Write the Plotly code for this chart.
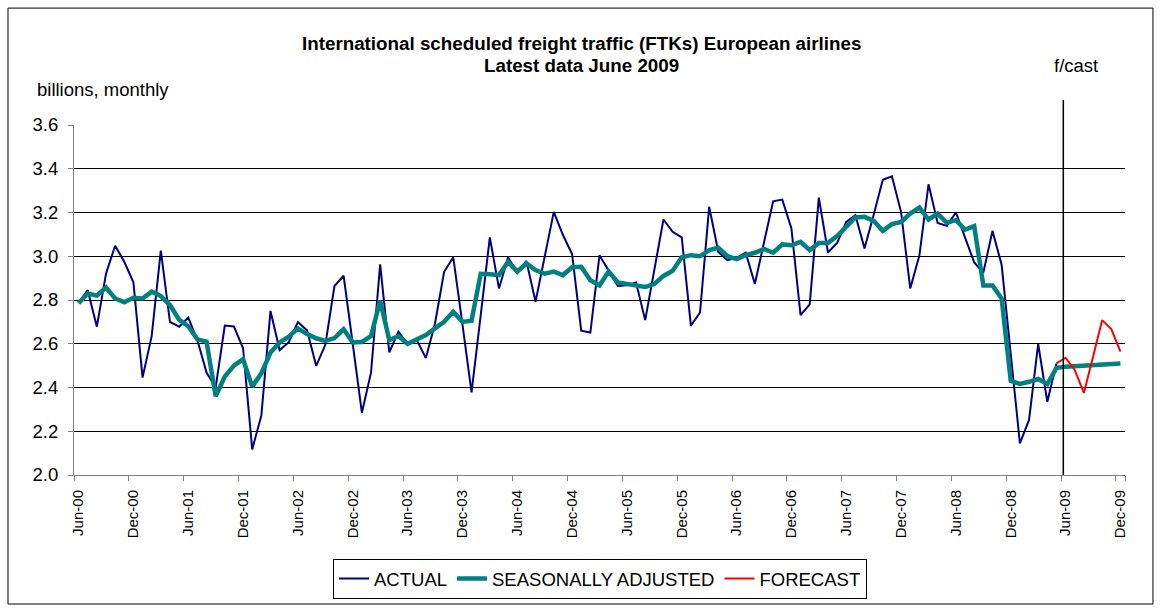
import pandas as pd
import plotly.graph_objects as go

# Month labels Jun-00 .. Dec-09
months = [d.strftime("%b-%y") for d in pd.date_range("2000-06-01", "2009-12-01", freq="MS")]

actual = [
    2.787, 2.845, 2.678, 2.920, 3.048, 2.975, 2.881, 2.445, 2.635, 3.026,
    2.700, 2.678, 2.720, 2.617, 2.468, 2.400, 2.683, 2.679, 2.579, 2.117,
    2.272, 2.750, 2.571, 2.607, 2.699, 2.661, 2.499, 2.595, 2.864, 2.911,
    2.600, 2.285, 2.468, 2.963, 2.561, 2.655, 2.600, 2.617, 2.535, 2.693,
    2.929, 2.995, 2.690, 2.378, 2.730, 3.086, 2.853, 2.995, 2.925, 2.978,
    2.792, 2.990, 3.203, 3.097, 3.010, 2.660, 2.651, 3.005, 2.937, 2.864,
    2.867, 2.880, 2.708, 2.940, 3.168, 3.112, 3.086, 2.683, 2.743, 3.226,
    3.020, 2.982, 2.993, 3.016, 2.873, 3.063, 3.251, 3.259, 3.127, 2.731,
    2.780, 3.268, 3.017, 3.061, 3.157, 3.188, 3.036, 3.190, 3.350, 3.365,
    3.202, 2.853, 3.003, 3.329, 3.152, 3.139, 3.200, 3.085, 2.972, 2.925,
    3.116, 2.961, 2.550, 2.145, 2.252, 2.599, 2.335, 2.510,
]

seasonally_adjusted = [
    2.785, 2.830, 2.820, 2.857, 2.807, 2.790, 2.810, 2.807, 2.838, 2.818,
    2.777, 2.710, 2.680, 2.620, 2.610, 2.360, 2.450, 2.500, 2.530, 2.404,
    2.465, 2.560, 2.606, 2.632, 2.670, 2.644, 2.625, 2.613, 2.626, 2.666,
    2.606, 2.608, 2.635, 2.797, 2.617, 2.635, 2.600, 2.620, 2.640, 2.670,
    2.700, 2.746, 2.700, 2.705, 2.920, 2.918, 2.914, 2.975, 2.930, 2.967,
    2.937, 2.920, 2.930, 2.914, 2.950, 2.952, 2.890, 2.866, 2.930, 2.880,
    2.873, 2.864, 2.860, 2.873, 2.910, 2.934, 2.995, 3.005, 3.000, 3.028,
    3.039, 3.000, 2.987, 3.005, 3.016, 3.033, 3.016, 3.054, 3.050, 3.066,
    3.028, 3.061, 3.061, 3.092, 3.135, 3.177, 3.180, 3.162, 3.116, 3.147,
    3.157, 3.195, 3.223, 3.168, 3.195, 3.153, 3.165, 3.122, 3.138, 2.866,
    2.866, 2.807, 2.430, 2.416, 2.426, 2.439, 2.416, 2.490, 2.495, 2.497,
    2.500, 2.502, 2.505, 2.507, 2.510,
]

forecast_start = 107
forecast = [2.510, 2.536, 2.480, 2.375, 2.540, 2.708, 2.667, 2.564]

tick_labels = months[::6]
y_ticks = [2.0, 2.2, 2.4, 2.6, 2.8, 3.0, 3.2, 3.4, 3.6]

FONT = "Liberation Sans, Arial, sans-serif"
HSIZE = 18.5

fig = go.Figure()
fig.add_trace(go.Scatter(x=months[:len(actual)], y=actual, mode="lines", name="ACTUAL",
                         line=dict(color="#000080", width=2)))
fig.add_trace(go.Scatter(x=months[:len(seasonally_adjusted)], y=seasonally_adjusted, mode="lines",
                         name="SEASONALLY ADJUSTED", line=dict(color="#008080", width=4.5)))
fig.add_trace(go.Scatter(x=months[forecast_start:forecast_start + len(forecast)], y=forecast,
                         mode="lines", name="FORECAST", line=dict(color="#FF0000", width=2)))

fig.update_layout(
    width=1162, height=611,
    margin=dict(l=74, r=37, t=125, b=136, autoexpand=False),
    paper_bgcolor="white", plot_bgcolor="white",
    font=dict(family=FONT, size=HSIZE, color="black"),
    showlegend=True,
    legend=dict(orientation="h", x=0.5005, xanchor="center", y=-0.2971, yanchor="middle",
                bordercolor="black", borderwidth=1, bgcolor="white",
                font=dict(family=FONT, size=HSIZE, color="black"),
                itemwidth=30, tracegroupgap=0),
    xaxis=dict(type="category", categoryorder="array", categoryarray=months,
               range=[-0.5, len(months) - 0.5],
               tickmode="array", tickvals=tick_labels, ticktext=tick_labels,
               tickson="boundaries", ticks="outside", ticklen=5, tickcolor="#808080",
               tickangle=-90, ticklabelstandoff=8,
               showgrid=False, showline=True, linecolor="#808080", linewidth=1,
               tickfont=dict(family=FONT, size=15, color="black"), zeroline=False),
    yaxis=dict(range=[2.0, 3.6], tickvals=y_ticks, tickformat=".1f",
               ticks="outside", ticklen=5, tickcolor="#808080", ticklabelstandoff=6,
               showgrid=True, gridcolor="black", gridwidth=1,
               showline=True, linecolor="#808080", linewidth=1, zeroline=False,
               tickfont=dict(family=FONT, size=HSIZE, color="black")),
    shapes=[
        dict(type="line", xref="paper", yref="paper", x0=0.9413, x1=0.9413, y0=0, y1=1.0714,
             line=dict(color="black", width=1.5)),
        dict(type="rect", xref="paper", yref="paper", x0=-0.0628, x1=1.0266, y0=-0.3686, y1=1.334,
             line=dict(color="black", width=1)),
    ],
    annotations=[
        dict(text="<b>International scheduled freight traffic (FTKs) European airlines</b>",
             xref="paper", yref="paper", x=0.483, y=1.234, xanchor="center", yanchor="middle",
             showarrow=False, font=dict(family=FONT, size=18.8, color="black")),
        dict(text="<b>Latest data June 2009</b>", xref="paper", yref="paper", x=0.483, y=1.171,
             xanchor="center", yanchor="middle",
             showarrow=False, font=dict(family=FONT, size=18.8, color="black")),
        dict(text="billions, monthly", xref="paper", yref="paper", x=-0.0371, y=1.1,
             xanchor="left", yanchor="middle", showarrow=False,
             font=dict(family=FONT, size=HSIZE, color="black")),
        dict(text="f/cast", xref="paper", yref="paper", x=0.9534, y=1.171,
             xanchor="center", yanchor="middle", showarrow=False,
             font=dict(family=FONT, size=HSIZE, color="black")),
    ],
)

fig.write_html("out.html", config={"displayModeBar": False},
               post_script="document.body.style.margin='0';")
